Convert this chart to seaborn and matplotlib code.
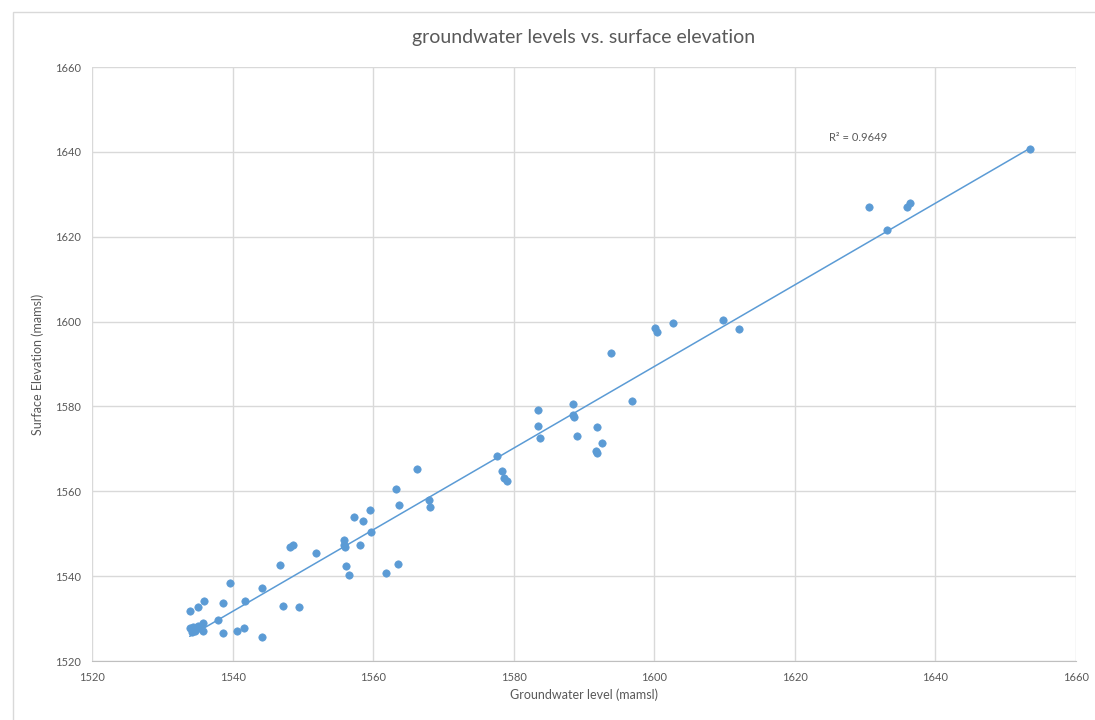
import seaborn as sns
import matplotlib.pyplot as plt
from matplotlib.patches import Rectangle
import pandas as pd
import numpy as np

sns.set_style("white")
plt.rcParams['font.family'] = ['Lato', 'DejaVu Sans']

# values
groundwater = [1534.0, 1535.1, 1536.0, 1533.9, 1534.3, 1534.7, 1535.1, 1534.2, 1535.4, 1535.8,
               1535.8, 1537.9, 1538.7, 1538.7, 1539.7, 1540.7, 1541.6, 1541.7, 1544.2, 1544.2,
               1546.7, 1547.2, 1548.2, 1548.6, 1549.5, 1551.9, 1555.8, 1555.9, 1556.0, 1556.2,
               1556.6, 1557.3, 1558.2, 1558.5, 1559.5, 1559.7, 1561.8, 1563.6, 1563.2, 1563.7,
               1566.2, 1567.9, 1568.1, 1577.6, 1578.4, 1578.6, 1579.1, 1583.4, 1583.5, 1583.8,
               1588.5, 1588.5, 1588.6, 1589.0, 1591.9, 1592.5, 1591.7, 1591.8, 1593.8, 1596.8,
               1600.1, 1600.4, 1602.6, 1609.8, 1612.1, 1630.6, 1633.1, 1635.9, 1636.4, 1653.4]
surface = [1531.9, 1532.8, 1534.2, 1527.7, 1528.1, 1527.1, 1528.3, 1526.9, 1527.7, 1528.9,
           1527.1, 1529.7, 1533.7, 1526.5, 1538.3, 1527.1, 1527.7, 1534.2, 1525.6, 1537.1,
           1542.7, 1533.0, 1546.8, 1547.3, 1532.7, 1545.5, 1548.5, 1547.3, 1546.9, 1542.5,
           1540.2, 1554.0, 1547.3, 1552.9, 1555.6, 1550.4, 1540.8, 1542.9, 1560.5, 1556.8,
           1565.2, 1557.9, 1556.4, 1568.3, 1564.8, 1563.1, 1562.4, 1579.2, 1575.5, 1572.5,
           1580.6, 1578.0, 1577.6, 1573.1, 1575.1, 1571.3, 1569.6, 1569.1, 1592.6, 1581.3,
           1598.4, 1597.6, 1599.7, 1600.4, 1598.2, 1626.9, 1621.7, 1627.1, 1628.0, 1640.6]
ticks = [1520, 1540, 1560, 1580, 1600, 1620, 1640, 1660]
r2_label = "R² = 0.9649"

df = pd.DataFrame({"gw": groundwater, "se": surface})

blue = "#5B9BD5"
grey = "#595959"

fig = plt.figure(figsize=(10.95, 7.2), dpi=100)
ax = fig.add_axes([92 / 1095, 1 - 661 / 720, 984 / 1095, 594 / 720])

# chart area border
fig.patches.append(Rectangle((13 / 1095, -0.05), 1.1, 1 - 12 / 720 + 0.05,
                             transform=fig.transFigure, fill=False,
                             edgecolor="#D9D9D9", linewidth=1))

sns.regplot(data=df, x="gw", y="se", ax=ax, ci=None, scatter=False,
            line_kws=dict(color=blue, linewidth=1.1))
sns.scatterplot(data=df, x="gw", y="se", ax=ax, color=blue, s=28,
                edgecolor=blue, linewidth=0.5, zorder=3)

ax.set_xlim(1520, 1660)
ax.set_ylim(1520, 1660)
ax.set_xticks(ticks)
ax.set_yticks(ticks)
ax.grid(True, color="#D9D9D9", linewidth=1)
ax.set_axisbelow(True)
for side in ["top", "right", "left"]:
    ax.spines[side].set_visible(False)
ax.spines["bottom"].set_color("#BFBFBF")
ax.tick_params(axis="both", length=0, labelsize=8, colors=grey, pad=8)

ax.set_xlabel("Groundwater level (mamsl)", fontsize=9, color=grey, labelpad=4)
ax.set_ylabel("Surface Elevation (mamsl)", fontsize=9, color=grey, labelpad=8)
fig.text(584 / 1095, 1 - 38 / 720, "groundwater levels vs. surface elevation",
         ha="center", va="center", fontsize=14, color=grey)
ax.text(1629, 1643.5, r2_label, ha="center", va="center", fontsize=8, color=grey)

fig.savefig("out.png", dpi=100)
